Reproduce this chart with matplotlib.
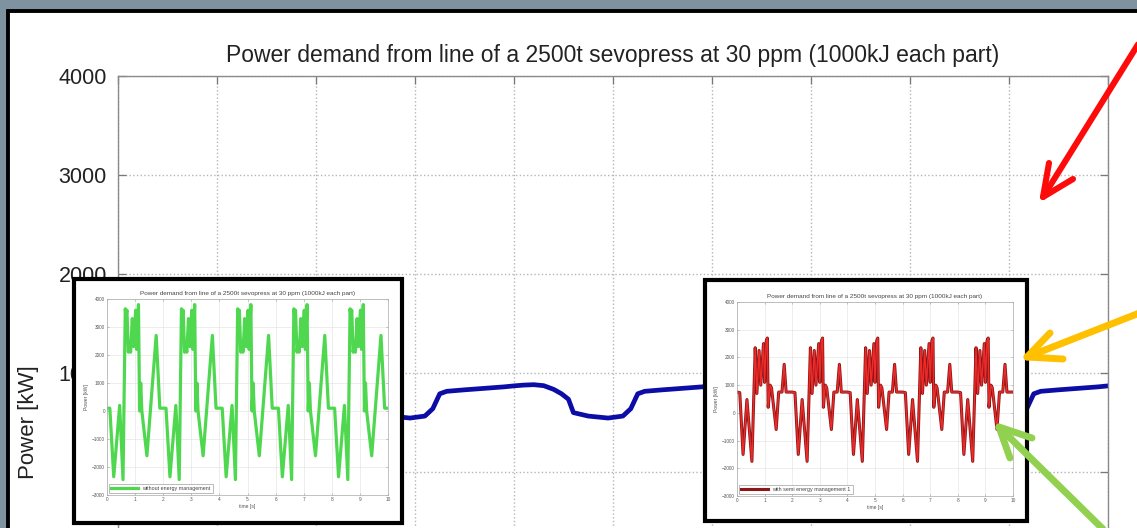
import numpy as np
import matplotlib.pyplot as plt
from matplotlib.patches import Rectangle
from matplotlib.lines import Line2D

plt.rcParams['font.family'] = ['Liberation Sans', 'DejaVu Sans']

W, H = 1137, 528
TITLE = 'Power demand from line of a 2500t sevopress at 30 ppm (1000kJ each part)'

# main curve: power demand of the line [kW] over time [s]
main_t = [0.0, 0.1, 0.2, 0.3, 0.4, 0.48, 0.55, 0.6, 0.75, 0.95, 1.1, 1.18, 1.25, 1.32, 1.5, 1.7, 1.9,
          2.0, 2.1, 2.2, 2.3, 2.4, 2.48, 2.55, 2.6, 2.75, 2.95, 3.1, 3.18, 3.25, 3.32, 3.5, 3.7, 3.9,
          4.0, 4.1, 4.2, 4.3, 4.4, 4.48, 4.55, 4.6, 4.75, 4.95, 5.1, 5.18, 5.25, 5.32, 5.5, 5.7, 5.9,
          6.0, 6.1, 6.2, 6.3, 6.4, 6.48, 6.55, 6.6, 6.75, 6.95, 7.1, 7.18, 7.25, 7.32, 7.5, 7.7, 7.9,
          8.0, 8.1, 8.2, 8.3, 8.4, 8.48, 8.55, 8.6, 8.75, 8.95, 9.1, 9.18, 9.25, 9.32, 9.5, 9.7, 9.9,
          10.0]
main_p = [870, 878, 882, 872, 835, 790, 735, 600, 565, 545, 565, 640, 790, 815, 830, 845, 860,
          870, 878, 882, 872, 835, 790, 735, 600, 565, 545, 565, 640, 790, 815, 830, 845, 860,
          870, 878, 882, 872, 835, 790, 735, 600, 565, 545, 565, 640, 790, 815, 830, 845, 860,
          870, 878, 882, 872, 835, 790, 735, 600, 565, 545, 565, 640, 790, 815, 830, 845, 860,
          870, 878, 882, 872, 835, 790, 735, 600, 565, 545, 565, 640, 790, 815, 830, 845, 860,
          870]

# inset 1: without energy management
green_t = [0.00, 0.10, 0.24, 0.45, 0.57, 0.65, 0.68, 0.71, 0.76, 0.80, 0.84, 0.90, 0.95, 1.02, 1.06, 1.12, 1.16, 1.20, 1.24, 1.42, 1.75, 1.88,
           2.00, 2.10, 2.24, 2.45, 2.57, 2.65, 2.68, 2.71, 2.76, 2.80, 2.84, 2.90, 2.95, 3.02, 3.06, 3.12, 3.16, 3.20, 3.24, 3.42, 3.75, 3.88,
           4.00, 4.10, 4.24, 4.45, 4.57, 4.65, 4.68, 4.71, 4.76, 4.80, 4.84, 4.90, 4.95, 5.02, 5.06, 5.12, 5.16, 5.20, 5.24, 5.42, 5.75, 5.88,
           6.00, 6.10, 6.24, 6.45, 6.57, 6.65, 6.68, 6.71, 6.76, 6.80, 6.84, 6.90, 6.95, 7.02, 7.06, 7.12, 7.16, 7.20, 7.24, 7.42, 7.75, 7.88,
           8.00, 8.10, 8.24, 8.45, 8.57, 8.65, 8.68, 8.71, 8.76, 8.80, 8.84, 8.90, 8.95, 9.02, 9.06, 9.12, 9.16, 9.20, 9.24, 9.42, 9.75, 9.88,
           10.0]
green_p = [100, 100, -2350, 200, -2450, 3650, 3400, 3600, 2100, 2400, 2100, 3300, 2300, 3600, 2200, 3800, 0, 1000, 0, -1600, 2700, 100,
           100, 100, -2350, 200, -2450, 3650, 3400, 3600, 2100, 2400, 2100, 3300, 2300, 3600, 2200, 3800, 0, 1000, 0, -1600, 2700, 100,
           100, 100, -2350, 200, -2450, 3650, 3400, 3600, 2100, 2400, 2100, 3300, 2300, 3600, 2200, 3800, 0, 1000, 0, -1600, 2700, 100,
           100, 100, -2350, 200, -2450, 3650, 3400, 3600, 2100, 2400, 2100, 3300, 2300, 3600, 2200, 3800, 0, 1000, 0, -1600, 2700, 100,
           100, 100, -2350, 200, -2450, 3650, 3400, 3600, 2100, 2400, 2100, 3300, 2300, 3600, 2200, 3800, 0, 1000, 0, -1600, 2700, 100,
           100]

# inset 2: with semi energy management 1
red_t = [0.00, 0.10, 0.22, 0.36, 0.54, 0.66, 0.72, 0.80, 0.86, 0.96, 1.00, 1.06, 1.10, 1.13, 1.20, 1.25, 1.42, 1.51, 1.63, 1.71, 1.78,
         2.00, 2.10, 2.22, 2.36, 2.54, 2.66, 2.72, 2.80, 2.86, 2.96, 3.00, 3.06, 3.10, 3.13, 3.20, 3.25, 3.42, 3.51, 3.63, 3.71, 3.78,
         4.00, 4.10, 4.22, 4.36, 4.54, 4.66, 4.72, 4.80, 4.86, 4.96, 5.00, 5.06, 5.10, 5.13, 5.20, 5.25, 5.42, 5.51, 5.63, 5.71, 5.78,
         6.00, 6.10, 6.22, 6.36, 6.54, 6.66, 6.72, 6.80, 6.86, 6.96, 7.00, 7.06, 7.10, 7.13, 7.20, 7.25, 7.42, 7.51, 7.63, 7.71, 7.78,
         8.00, 8.10, 8.22, 8.36, 8.54, 8.66, 8.72, 8.80, 8.86, 8.96, 9.00, 9.06, 9.10, 9.13, 9.20, 9.25, 9.42, 9.51, 9.63, 9.71, 9.78,
         10.0]
red_p = [750, 730, -1500, 480, -1750, 2350, 700, 2250, 1000, 2500, 1100, 2600, 2700, 200, 1000, 900, -600, 750, 750, 1750, 750,
         750, 730, -1500, 480, -1750, 2350, 700, 2250, 1000, 2500, 1100, 2600, 2700, 200, 1000, 900, -600, 750, 750, 1750, 750,
         750, 730, -1500, 480, -1750, 2350, 700, 2250, 1000, 2500, 1100, 2600, 2700, 200, 1000, 900, -600, 750, 750, 1750, 750,
         750, 730, -1500, 480, -1750, 2350, 700, 2250, 1000, 2500, 1100, 2600, 2700, 200, 1000, 900, -600, 750, 750, 1750, 750,
         750, 730, -1500, 480, -1750, 2350, 700, 2250, 1000, 2500, 1100, 2600, 2700, 200, 1000, 900, -600, 750, 750, 1750, 750,
         750]

y_ticks = [-3000, -2000, -1000, 0, 1000, 2000, 3000, 4000]
x_ticks = list(range(11))


def fx(px):
    return px / W


def fy(py):
    return 1 - py / H


fig = plt.figure(figsize=(W / 100, H / 100), dpi=100, facecolor='#7f929f')

# slide frame
fig.add_artist(Rectangle((fx(8), fy(H + 10)), fx(W + 10) - fx(8), fy(11) - fy(H + 10),
                         transform=fig.transFigure, facecolor='white', edgecolor='black',
                         lw=2.8, zorder=-1))

# main chart (only its upper part is visible on the slide)
ax = fig.add_axes([fx(118), fy(769), fx(1108) - fx(118), fy(76) - fy(769)])
ax.plot(main_t, main_p, color='#0c0ca6', lw=3.4, solid_joinstyle='round')
ax.set_xlim(0, 10)
ax.set_ylim(-3000, 4000)
ax.set_xticks(x_ticks)
ax.set_yticks(y_ticks)
ax.grid(True, ls=':', color='#b5b5b5', lw=1.0)
ax.tick_params(direction='in', length=6, width=0.9, color='#777777', labelcolor='#222222',
               labelsize=15.5, pad=8, right=True, top=True, labelbottom=False)
# labels that sit behind the inset / below the slide edge
for lab, v in zip(ax.get_yticklabels(), y_ticks):
    if v <= 0:
        lab.set_visible(False)
for s in ax.spines.values():
    s.set_color('#8a8a8a')
    s.set_linewidth(1.0)
ax.set_title(TITLE, fontsize=16.5, color='#222222', pad=10)
ax.set_ylabel('Power [kW]', fontsize=16, color='#222222', labelpad=14)


def inset(frame, box, t, p, label, kind):
    x0, y0, x1, y1 = frame
    fig.add_artist(Rectangle((fx(x0), fy(y1)), fx(x1) - fx(x0), fy(y0) - fy(y1),
                             transform=fig.transFigure, facecolor='white',
                             edgecolor='black', lw=3.0, zorder=2))
    bx0, by0, bx1, by1 = box
    a = fig.add_axes([fx(bx0), fy(by1), fx(bx1) - fx(bx0), fy(by0) - fy(by1)], zorder=3)
    if kind == 'green':
        a.plot(t, p, color='#4fd84f', lw=2.3, label=label)
    else:
        a.plot(t, p, color='#8e1616', lw=2.2, label=label)
        a.plot(t, p, color='#ee2a2a', lw=1.0)
    a.set_xlim(0, 10)
    a.set_ylim(-3000, 4000)
    a.set_xticks(x_ticks)
    a.set_yticks(y_ticks)
    a.grid(True, color='#e0e0e0', lw=0.4)
    a.tick_params(direction='in', length=1.5, width=0.4, color='#999999', labelcolor='#555555',
                  labelsize=3.4, pad=1.5, right=True, top=True)
    for s in a.spines.values():
        s.set_color('#aaaaaa')
        s.set_linewidth(0.5)
    a.set_title(TITLE, fontsize=4.6, color='#444444', pad=3)
    a.set_xlabel('time [s]', fontsize=3.6, color='#555555', labelpad=1.5)
    a.set_ylabel('Power [kW]', fontsize=3.6, color='#555555', labelpad=2)
    leg = a.legend(loc='lower left', fontsize=3.9, handlelength=5, frameon=True, fancybox=False,
                   borderpad=0.35, framealpha=1, borderaxespad=0.4)
    leg.get_frame().set_edgecolor('#888888')
    leg.get_frame().set_linewidth(0.4)
    for tx in leg.get_texts():
        tx.set_color('#444444')
    return a


inset((74, 279, 402, 523), (107, 299, 388, 495), green_t, green_p,
      'without energy management', 'green')
inset((705, 280, 1027, 521), (737, 302, 1013, 496), red_t, red_p,
      'with semi energy management 1', 'red')


def arrow(tail, tip, arm1, arm2, color, lw):
    kw = dict(transform=fig.transFigure, color=color, lw=lw, solid_capstyle='round',
              solid_joinstyle='round', zorder=5)
    fig.add_artist(Line2D([fx(tail[0]), fx(tip[0])], [fy(tail[1]), fy(tip[1])], **kw))
    fig.add_artist(Line2D([fx(arm1[0]), fx(tip[0]), fx(arm2[0])],
                          [fy(arm1[1]), fy(tip[1]), fy(arm2[1])], **kw))


arrow((1142, 38), (1043, 197), (1049, 163), (1073, 179), '#ff0a0a', 4.4)
arrow((1142, 312), (1027, 357), (1050, 333), (1063, 359), '#ffc000', 5.0)
arrow((1106, 532), (999, 427), (1010, 458), (1032, 438), '#92d050', 5.0)

fig.savefig('out.png', dpi=100, facecolor=fig.get_facecolor())
